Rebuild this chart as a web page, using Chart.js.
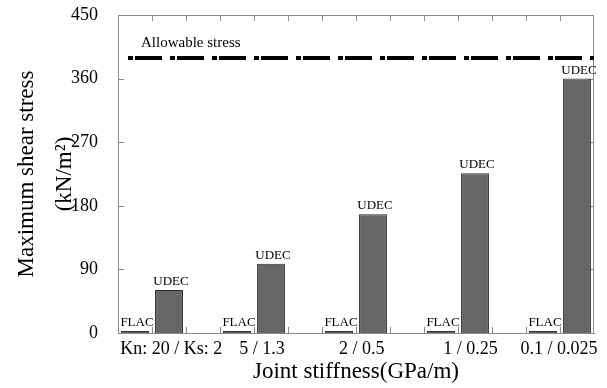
<!DOCTYPE html>
<html>
<head>
<meta charset="utf-8">
<script src="https://cdn.jsdelivr.net/npm/chart.js@4"></script>
<style>
  html, body { margin: 0; padding: 0; background: #fff; }
  #wrap { width: 607px; height: 388px; }
</style>
</head>
<body>
<div id="wrap"><canvas id="c" width="607" height="388"></canvas></div>
<script>
// ── Data ──
const stiffness = ["Kn: 20 / Ks: 2", "5 / 1.3", "2 / 0.5", "1 / 0.25", "0.1 / 0.025"];
const flac = [3, 3, 3, 3, 3];
const udec = [61, 98, 168, 226, 360];
const allowable = 389;
const yTicks = [0, 90, 180, 270, 360, 450];

const SERIF = "'Liberation Serif', 'Times New Roman', serif";
const frame = "#8a8a8a";

// each case takes three slots (FLAC, UDEC, gap); no gap after the last one.
// the original labels were placed by hand, spaces nudge them the same way
const lead = [" ", "", "", "", ""];
const trail = ["", "    ", "     ", "  ", "        "];
const slotLabels = [];
const flacSlots = [];
const udecSlots = [];
stiffness.forEach((s, i) => {
  slotLabels.push("", lead[i] + s + trail[i], "");
  flacSlots.push(flac[i], null, null);
  udecSlots.push(null, udec[i], null);
});
slotLabels.pop();
flacSlots.pop();
udecSlots.pop();

// keep label overhang out of the layout, the plot box is fixed
function noOverhang(s) {
  s.paddingLeft = 0;
  s.paddingRight = 0;
  s.paddingTop = 0;
  s.paddingBottom = 0;
}

// frame on top/right, inward ticks on all four sides
const frameTicks = {
  id: "frameTicks",
  beforeDatasetsDraw(chart) {
    const ctx = chart.ctx;
    const { left, right, top, bottom } = chart.chartArea;
    const x = chart.scales.x;
    const y = chart.scales.y;
    const len = 6;
    ctx.save();
    ctx.strokeStyle = frame;
    ctx.lineWidth = 1;
    ctx.beginPath();
    ctx.moveTo(left, top + 0.5);
    ctx.lineTo(right, top + 0.5);
    ctx.moveTo(right - 0.5, top);
    ctx.lineTo(right - 0.5, bottom);
    const half = (x.getPixelForTick(1) - x.getPixelForTick(0)) / 2;
    for (let i = 1; i < x.ticks.length; i++) {
      const px = Math.round(x.getPixelForTick(i) - half) + 0.5;
      ctx.moveTo(px, top);
      ctx.lineTo(px, top + len);
      ctx.moveTo(px, bottom);
      ctx.lineTo(px, bottom - len);
    }
    y.ticks.forEach((t) => {
      const py = Math.round(y.getPixelForValue(t.value)) + 0.5;
      ctx.moveTo(left, py);
      ctx.lineTo(left + len, py);
      ctx.moveTo(right, py);
      ctx.lineTo(right - len, py);
    });
    ctx.stroke();
    ctx.restore();
  },
};

// labels above bars + allowable stress line
const overlay = {
  id: "overlay",
  afterDatasetsDraw(chart) {
    const ctx = chart.ctx;
    const { left, right } = chart.chartArea;
    ctx.save();
    ctx.fillStyle = "#000";
    ctx.font = "13px " + SERIF;
    ctx.textAlign = "center";
    ctx.textBaseline = "alphabetic";
    chart.data.datasets.forEach((ds, di) => {
      chart.getDatasetMeta(di).data.forEach((bar, i) => {
        if (ds.data[i] == null) return;
        ctx.fillText(ds.label, bar.x + 2, bar.y - 5);
      });
    });

    const y = chart.scales.y.getPixelForValue(allowable);
    ctx.strokeStyle = "#000";
    ctx.lineWidth = 4;
    ctx.setLineDash([5, 2, 27, 8]);
    ctx.beginPath();
    ctx.moveTo(left + 10, y);
    ctx.lineTo(right, y);
    ctx.stroke();
    ctx.setLineDash([]);

    ctx.font = "15px " + SERIF;
    ctx.textAlign = "left";
    ctx.fillText("Allowable stress", left + 23, y - 11);
    ctx.restore();
  },
};

new Chart(document.getElementById("c"), {
  type: "bar",
  data: {
    labels: slotLabels,
    datasets: [
      {
        label: "FLAC",
        data: flacSlots,
        backgroundColor: "#666666",
        borderColor: "#2a2a2a",
        borderWidth: 1,
      },
      {
        label: "UDEC",
        data: udecSlots,
        backgroundColor: "#666666",
        borderColor: "#2a2a2a",
        borderWidth: 1,
      },
    ],
  },
  options: {
    responsive: false,
    animation: false,
    events: [],
    layout: { padding: { left: 0, right: 13, top: 15, bottom: 0 } },
    datasets: { bar: { barPercentage: 0.82, categoryPercentage: 1 } },
    plugins: { legend: { display: false }, tooltip: { enabled: false } },
    scales: {
      x: {
        stacked: true,
        offset: true,
        grid: { display: false },
        border: { color: frame },
        ticks: {
          autoSkip: false,
          maxRotation: 0,
          padding: -3,
          color: "#000",
          font: { family: SERIF, size: 18 },
        },
        title: {
          display: true,
          text: "Joint stiffness(GPa/m)",
          color: "#000",
          font: { family: SERIF, size: 23 },
          padding: { top: 0, bottom: 2 },
        },
        afterFit: (s) => { s.height = 55; noOverhang(s); },
      },
      y: {
        stacked: true,
        min: 0,
        max: 450,
        afterBuildTicks: (s) => { s.ticks = yTicks.map((v) => ({ value: v })); },
        grid: { display: false },
        border: { color: frame },
        ticks: {
          padding: 12,
          color: "#000",
          font: { family: SERIF, size: 18 },
        },
        title: {
          display: true,
          text: ["Maximum shear stress", "(kN/m²)"],
          color: "#000",
          font: { family: SERIF, size: 23, lineHeight: 1.65 },
          padding: { top: 8, bottom: 0 },
        },
        afterFit: (s) => { s.width = 118; noOverhang(s); },
      },
    },
  },
  plugins: [frameTicks, overlay],
});
</script>
</body>
</html>
